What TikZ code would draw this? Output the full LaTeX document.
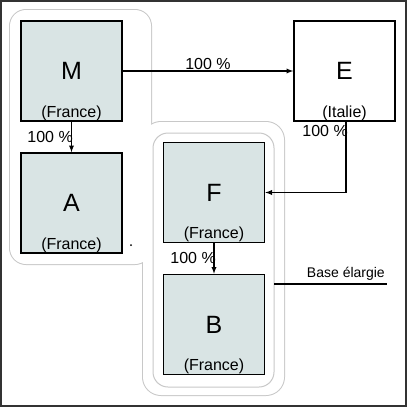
\documentclass[tikz,border=0pt]{standalone}
\usepackage{fontspec}
\setmainfont{Liberation Sans}
\usepackage{xcolor}
\usetikzlibrary{arrows}

\definecolor{boxfill}{RGB}{217,228,228}
\definecolor{contour}{RGB}{200,200,200}

\begin{document}
\begin{tikzpicture}[x=1pt, y=-1pt, >=latex,
	box/.style={draw=black, line width=1.6pt, fill=boxfill, minimum width=101pt, minimum height=100pt, inner sep=0pt, font=\fontsize{25}{25}\selectfont},
	pays/.style={above, inner sep=1pt, font=\fontsize{16}{16}\selectfont},
	pct/.style={inner sep=1pt, font=\fontsize{16}{16}\selectfont},
	link/.style={->, line width=1.3pt}]

\useasboundingbox (0,0) rectangle (407,407);
\draw[line width=1.5pt, black!80] (1,1) rectangle (406,406);

% contours of the groups
\draw[contour, line width=2pt, rounded corners=16pt] (10,10) rectangle (151,264);
\draw[contour, line width=2pt, rounded corners=18pt] (143,122) rectangle (284,395);
\fill[white, rounded corners=16pt] (10,10) rectangle (151,264);
\fill[white, rounded corners=18pt] (143,122) rectangle (284,395);
\draw[contour, line width=1pt, rounded corners=15pt] (153,133) rectangle (274,387);
\fill (131,245) circle (1pt);

% companies
\node (M) at (71.5,71) [box] {M};
\node (A) at (71.5,203) [box] {A};
\node (E) at (344.5,71) [box, fill=white] {E};
\node (F) at (214,192.5) [box] {F};
\node (B) at (214,324.5) [box] {B};

\node (Mp) at (M.south) [pays] {(France)};
\node (Ap) at (A.south) [pays] {(France)};
\node (Ep) at (E.south) [pays] {(Italie)};
\node (Fp) at (F.south) [pays] {(France)};
\node (Bp) at (B.south) [pays] {(France)};

% holdings
\draw[link] (M) -- node[pct, above] (mepct) {100 \%} (E);
\draw[link] (M) -- (A);
\node (mapct) at (74,137) [pct, anchor=east] {100 \%};
\draw[link] (E.south -| 346,0) |- (F);
\node (efpct) at (349,131) [pct, anchor=east] {100 \%};
\draw[link] (F) -- (B);
\node (fbpct) at (217,258) [pct, anchor=east] {100 \%};

\coordinate (base1) at (274,284);
\coordinate (base2) at (387,284);
\draw[line width=1.2pt] (base1) -- (base2);
\node (base) at (386,282) [anchor=south east, inner sep=1pt, font=\fontsize{14}{14}\selectfont] {Base élargie};

\end{tikzpicture}
\end{document}
